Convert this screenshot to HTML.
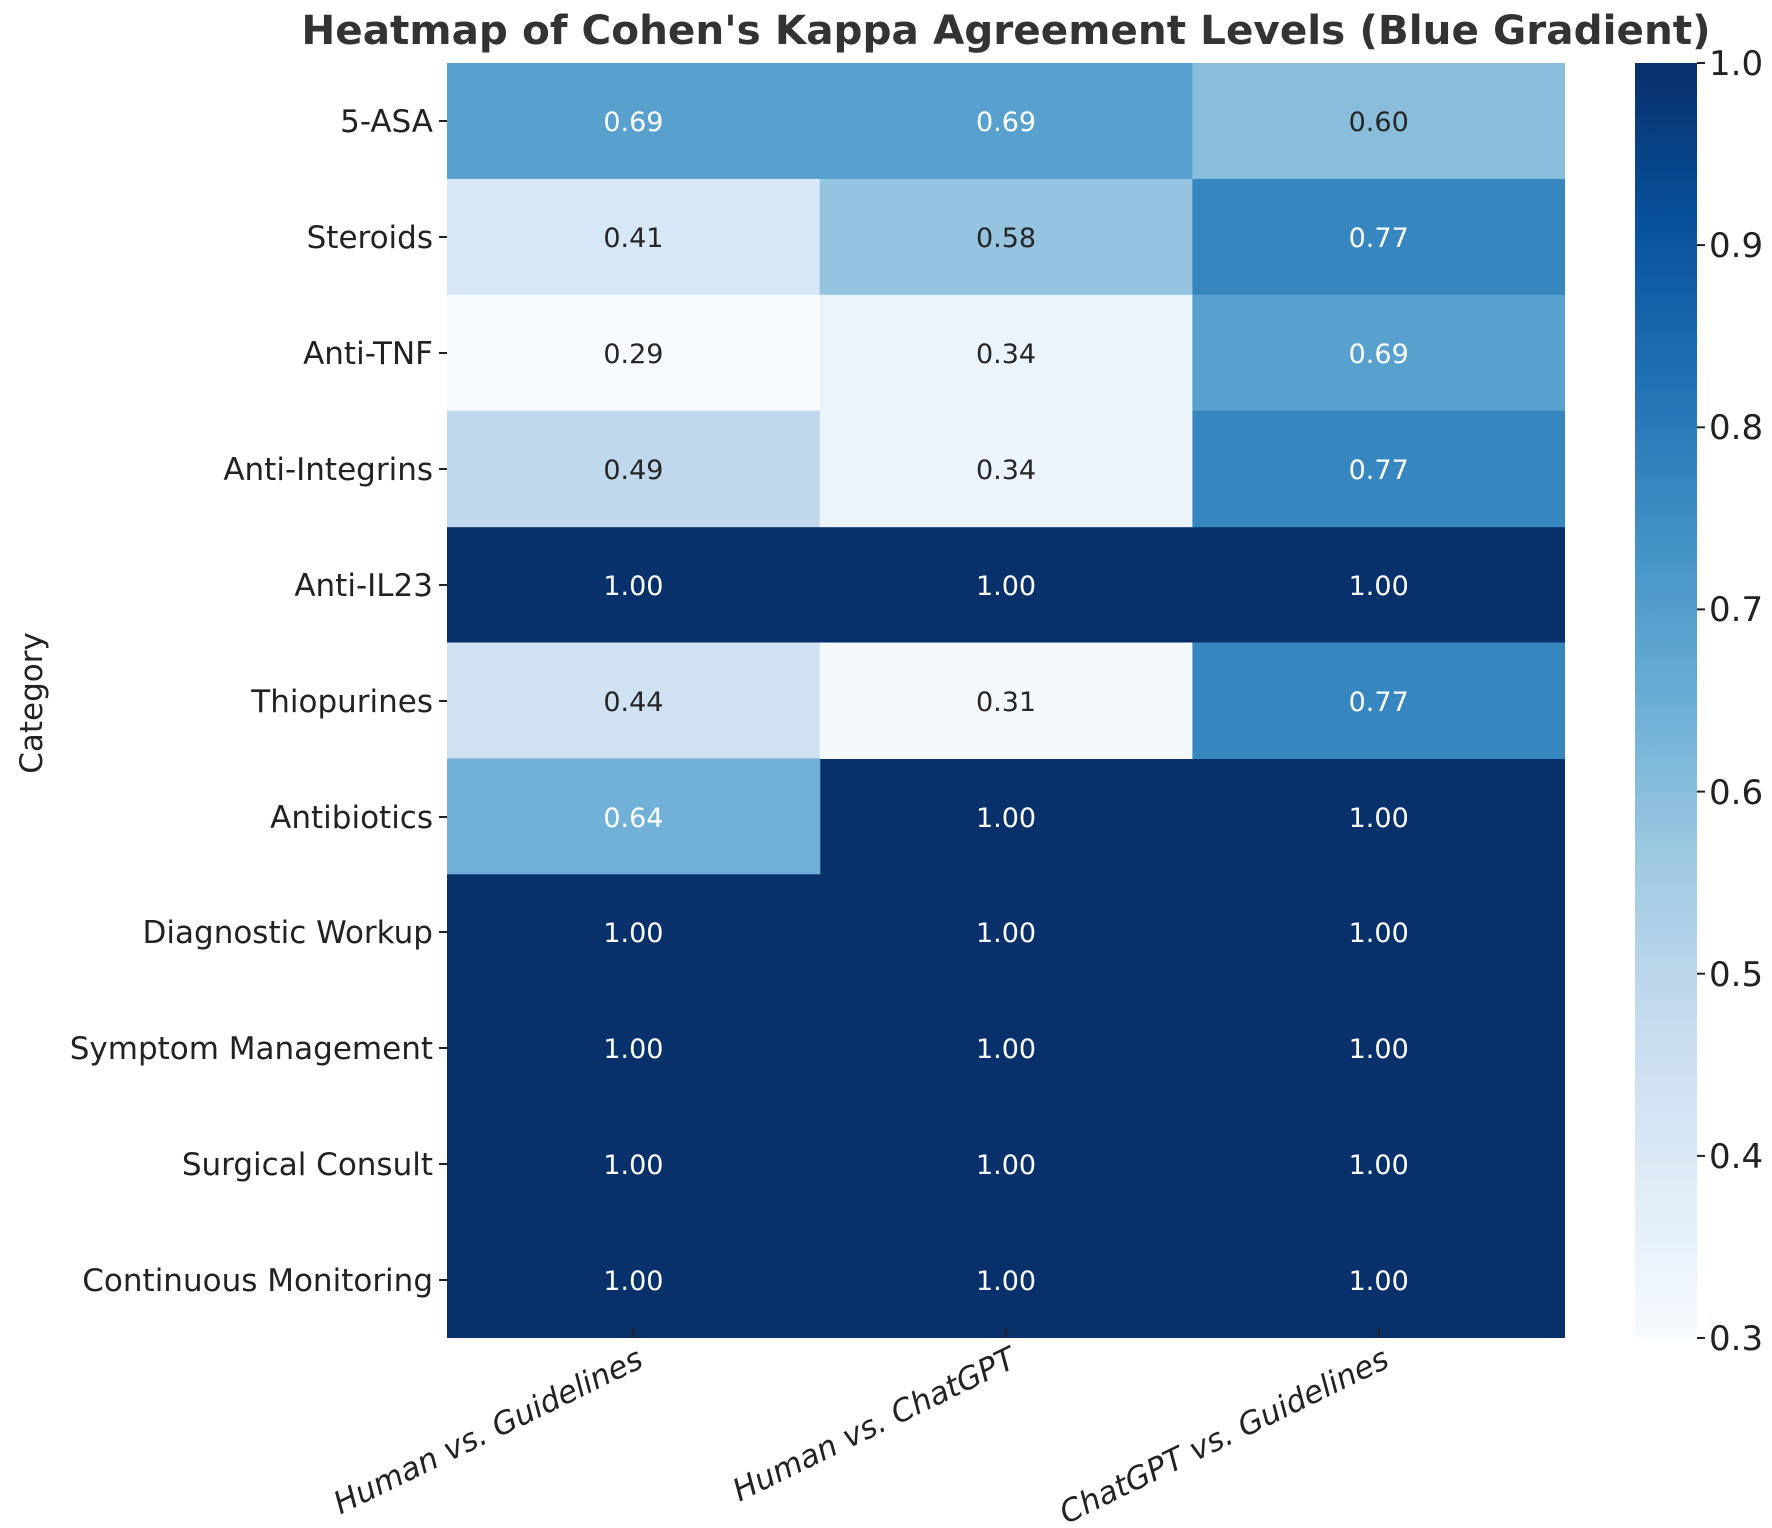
<!DOCTYPE html>
<html><head><meta charset="utf-8"><style>html,body{margin:0;padding:0;background:#fff}</style></head>
<body>
<svg width="1772" height="1523" viewBox="0 0 1772 1523" xmlns="http://www.w3.org/2000/svg" font-family="'DejaVu Sans','Liberation Sans',sans-serif">
<defs>
<linearGradient id="cb" x1="0" y1="1" x2="0" y2="0">
<stop offset="0" stop-color="#f7fbff"/><stop offset="0.125" stop-color="#deebf7"/><stop offset="0.25" stop-color="#c6dbef"/><stop offset="0.375" stop-color="#9ecae1"/><stop offset="0.5" stop-color="#6baed6"/><stop offset="0.625" stop-color="#4292c6"/><stop offset="0.75" stop-color="#2171b5"/><stop offset="0.875" stop-color="#08519c"/><stop offset="1" stop-color="#08306b"/>
</linearGradient>
</defs>
<text x="1006" y="44" text-anchor="middle" font-size="40.5" font-weight="bold" fill="#333">Heatmap of Cohen's Kappa Agreement Levels (Blue Gradient)</text>

<rect x="447" y="63" width="1118" height="1275" fill="#08306b"/>
<rect x="447" y="63" width="373.3" height="116.5" fill="rgb(88,161,207)"/>
<rect x="819.7" y="63" width="373.3" height="116.5" fill="rgb(88,161,207)"/>
<rect x="1192.4" y="63" width="372.6" height="116.5" fill="rgb(136,190,220)"/>
<rect x="447" y="178.9" width="373.3" height="116.5" fill="rgb(216,231,245)"/>
<rect x="819.7" y="178.9" width="373.3" height="116.5" fill="rgb(148,196,223)"/>
<rect x="1192.4" y="178.9" width="372.6" height="116.5" fill="rgb(54,134,192)"/>
<rect x="447" y="294.8" width="373.3" height="116.5" fill="#f7fbff"/>
<rect x="819.7" y="294.8" width="373.3" height="116.5" fill="rgb(236,244,251)"/>
<rect x="1192.4" y="294.8" width="372.6" height="116.5" fill="rgb(88,161,207)"/>
<rect x="447" y="410.7" width="373.3" height="116.5" fill="rgb(191,216,237)"/>
<rect x="819.7" y="410.7" width="373.3" height="116.5" fill="rgb(236,244,251)"/>
<rect x="1192.4" y="410.7" width="372.6" height="116.5" fill="rgb(54,134,192)"/>
<rect x="447" y="642.5" width="373.3" height="116.5" fill="rgb(208,225,242)"/>
<rect x="819.7" y="642.5" width="373.3" height="116.5" fill="rgb(244,249,254)"/>
<rect x="1192.4" y="642.5" width="372.6" height="116.5" fill="rgb(54,134,192)"/>
<rect x="447" y="758.4" width="373.3" height="115.9" fill="rgb(113,177,215)"/>

<g font-size="27" text-anchor="middle">
<text x="633.4" y="131" fill="#fff">0.69</text><text x="1006" y="131" fill="#fff">0.69</text><text x="1378.7" y="131" fill="#262626">0.60</text>
<text x="633.4" y="247" fill="#262626">0.41</text><text x="1006" y="247" fill="#262626">0.58</text><text x="1378.7" y="247" fill="#fff">0.77</text>
<text x="633.4" y="363" fill="#262626">0.29</text><text x="1006" y="363" fill="#262626">0.34</text><text x="1378.7" y="363" fill="#fff">0.69</text>
<text x="633.4" y="479" fill="#262626">0.49</text><text x="1006" y="479" fill="#262626">0.34</text><text x="1378.7" y="479" fill="#fff">0.77</text>
<text x="633.4" y="595" fill="#fff">1.00</text><text x="1006" y="595" fill="#fff">1.00</text><text x="1378.7" y="595" fill="#fff">1.00</text>
<text x="633.4" y="711" fill="#262626">0.44</text><text x="1006" y="711" fill="#262626">0.31</text><text x="1378.7" y="711" fill="#fff">0.77</text>
<text x="633.4" y="827" fill="#fff">0.64</text><text x="1006" y="827" fill="#fff">1.00</text><text x="1378.7" y="827" fill="#fff">1.00</text>
<text x="633.4" y="942" fill="#fff">1.00</text><text x="1006" y="942" fill="#fff">1.00</text><text x="1378.7" y="942" fill="#fff">1.00</text>
<text x="633.4" y="1058" fill="#fff">1.00</text><text x="1006" y="1058" fill="#fff">1.00</text><text x="1378.7" y="1058" fill="#fff">1.00</text>
<text x="633.4" y="1174" fill="#fff">1.00</text><text x="1006" y="1174" fill="#fff">1.00</text><text x="1378.7" y="1174" fill="#fff">1.00</text>
<text x="633.4" y="1290" fill="#fff">1.00</text><text x="1006" y="1290" fill="#fff">1.00</text><text x="1378.7" y="1290" fill="#fff">1.00</text>
</g>

<g font-size="31" text-anchor="end" fill="#222">
<text x="433" y="132">5-ASA</text>
<text x="433" y="248">Steroids</text>
<text x="433" y="364">Anti-TNF</text>
<text x="433" y="480">Anti-Integrins</text>
<text x="433" y="596">Anti-IL23</text>
<text x="433" y="712">Thiopurines</text>
<text x="433" y="828">Antibiotics</text>
<text x="433" y="943">Diagnostic Workup</text>
<text x="433" y="1059">Symptom Management</text>
<text x="433" y="1175">Surgical Consult</text>
<text x="433" y="1291">Continuous Monitoring</text>
</g>
<g stroke="#222" stroke-width="2">
<line x1="439" x2="447" y1="121" y2="121"/><line x1="439" x2="447" y1="237" y2="237"/><line x1="439" x2="447" y1="353" y2="353"/><line x1="439" x2="447" y1="469" y2="469"/><line x1="439" x2="447" y1="585" y2="585"/><line x1="439" x2="447" y1="701" y2="701"/><line x1="439" x2="447" y1="817" y2="817"/><line x1="439" x2="447" y1="932" y2="932"/><line x1="439" x2="447" y1="1048" y2="1048"/><line x1="439" x2="447" y1="1164" y2="1164"/><line x1="439" x2="447" y1="1280" y2="1280"/>
<line x1="633.4" x2="633.4" y1="1328" y2="1338"/><line x1="1006" x2="1006" y1="1328" y2="1338"/><line x1="1378.7" x2="1378.7" y1="1328" y2="1338"/>
</g>

<g font-size="31" font-style="italic" fill="#222" text-anchor="end">
<text transform="translate(645,1366) rotate(-26)">Human vs. Guidelines</text>
<text transform="translate(1018,1366) rotate(-26)">Human vs. ChatGPT</text>
<text transform="translate(1391,1366) rotate(-26)">ChatGPT vs. Guidelines</text>
</g>

<text transform="translate(42,703) rotate(-90)" text-anchor="middle" font-size="31" fill="#222">Category</text>

<rect x="1635" y="63" width="62" height="1275" fill="url(#cb)"/>
<g stroke="#222" stroke-width="2">
<line x1="1697" x2="1705" y1="1338" y2="1338"/><line x1="1697" x2="1705" y1="1155.9" y2="1155.9"/><line x1="1697" x2="1705" y1="973.7" y2="973.7"/><line x1="1697" x2="1705" y1="791.6" y2="791.6"/><line x1="1697" x2="1705" y1="609.4" y2="609.4"/><line x1="1697" x2="1705" y1="427.3" y2="427.3"/><line x1="1697" x2="1705" y1="245.1" y2="245.1"/><line x1="1697" x2="1705" y1="63" y2="63"/>
</g>
<g font-size="34" fill="#222">
<text x="1709" y="1350">0.3</text><text x="1709" y="1168">0.4</text><text x="1709" y="986">0.5</text><text x="1709" y="804">0.6</text><text x="1709" y="621">0.7</text><text x="1709" y="439">0.8</text><text x="1709" y="257">0.9</text><text x="1709" y="75">1.0</text>
</g>
</svg>
</body></html>
